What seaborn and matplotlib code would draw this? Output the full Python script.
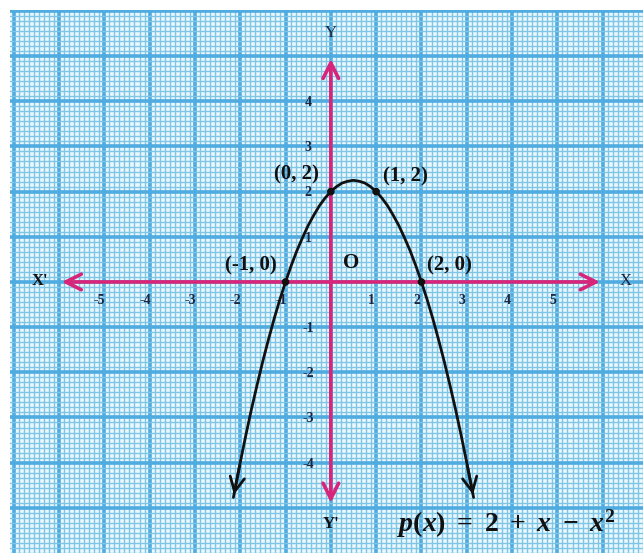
import numpy as np
import seaborn as sns
import matplotlib.pyplot as plt
import pandas as pd

# Curve p(x) = 2 + x - x^2
curve_x = [-2.15, -2.0, -1.875, -1.75, -1.625, -1.5, -1.375, -1.25, -1.125, -1.0,
           -0.875, -0.75, -0.625, -0.5, -0.375, -0.25, -0.125, 0.0, 0.125, 0.25,
           0.375, 0.5, 0.625, 0.75, 0.875, 1.0, 1.125, 1.25, 1.375, 1.5, 1.625,
           1.75, 1.875, 2.0, 2.125, 2.25, 2.375, 2.5, 2.625, 2.75, 2.875, 3.0, 3.15]
curve_y = [-4.77, -4.0, -3.39, -2.81, -2.27, -1.75, -1.27, -0.81, -0.39, 0.0,
           0.36, 0.69, 0.98, 1.25, 1.48, 1.69, 1.86, 2.0, 2.11, 2.19,
           2.23, 2.25, 2.23, 2.19, 2.11, 2.0, 1.86, 1.69, 1.48, 1.25, 0.98,
           0.69, 0.36, 0.0, -0.39, -0.81, -1.27, -1.75, -2.27, -2.81, -3.39, -4.0, -4.77]

# marked points and their labels
pt_x = [-1, 0, 1, 2]
pt_y = [0, 2, 2, 0]
pt_labels = ["(-1, 0)", "(0, 2)", "(1, 2)", "(2, 0)"]

x_ticks = [-5, -4, -3, -2, -1, 1, 2, 3, 4, 5]
y_ticks = [-4, -3, -2, -1, 1, 2, 3, 4]

sns.set_theme(style="white")
plt.rcParams["font.family"] = ["Liberation Serif", "DejaVu Serif"]
plt.rcParams["mathtext.fontset"] = "custom"
plt.rcParams["mathtext.rm"] = "Liberation Serif:bold"
plt.rcParams["mathtext.it"] = "Liberation Serif:italic:bold"
plt.rcParams["mathtext.bf"] = "Liberation Serif:bold"

AXIS_COL = "#d8257a"
INK = "#111111"
NUM_COL = "#1c2540"

fig = plt.figure(figsize=(6.43, 5.53), dpi=100)
ax = fig.add_axes([10 / 643, 0, 633 / 643, 543 / 553])
ax.set_facecolor("#eaf8fd")

ax.set_xlim(-7.08, 6.84)
ax.set_ylim(-5.91, 6.02)

# graph paper: thick line every unit, fine lines in between
ax.set_xticks(np.arange(-7, 7, 1))
ax.set_yticks(np.arange(-5, 7, 1))
ax.set_xticks(np.arange(-7, 7, 1 / 9), minor=True)
ax.set_yticks(np.arange(-6, 6.1, 1 / 9), minor=True)
ax.grid(which="minor", color="#7fc5e6", lw=1.0)
ax.grid(which="major", color="#4fabe0", lw=2.6)
ax.tick_params(which="both", length=0, labelbottom=False, labelleft=False)
for s in ax.spines.values():
    s.set_visible(False)
ax.set_axisbelow(True)

# x and y axes with arrows
ax.annotate("", xy=(6.0, 0), xytext=(-6.0, 0),
            arrowprops=dict(arrowstyle="<->", color=AXIS_COL, lw=2.6, mutation_scale=28))
ax.annotate("", xy=(0, 5.0), xytext=(0, -4.95),
            arrowprops=dict(arrowstyle="<->", color=AXIS_COL, lw=2.6, mutation_scale=28))

bold = dict(fontweight="bold", color=INK)
ax.text(-6.42, 0.02, "X'", fontsize=12, ha="center", va="center", **bold)
ax.text(6.5, 0.02, "X", fontsize=12, ha="center", va="center", color=NUM_COL)
ax.text(0.0, 5.5, "Y", fontsize=12, ha="center", va="center", color=NUM_COL)
ax.text(0.0, -5.35, "Y'", fontsize=12, ha="center", va="center", **bold)

for v in x_ticks:
    ax.text(v - 0.1, -0.4, str(v), fontsize=10, ha="center", va="center",
            fontweight="bold", color=NUM_COL)
for v in y_ticks:
    ax.text(-0.5, v - 0.03, str(v), fontsize=10, ha="center", va="center",
            fontweight="bold", color=NUM_COL)

# parabola
curve = pd.DataFrame({"x": curve_x, "y": curve_y})
sns.lineplot(data=curve, x="x", y="y", sort=False, color=INK, lw=2.0, ax=ax, zorder=5)
ax.annotate("", xy=(curve_x[0], curve_y[0]), xytext=(curve_x[1], curve_y[1]),
            arrowprops=dict(arrowstyle="->", color=INK, lw=2.0, mutation_scale=26))
ax.annotate("", xy=(curve_x[-1], curve_y[-1]), xytext=(curve_x[-2], curve_y[-2]),
            arrowprops=dict(arrowstyle="->", color=INK, lw=2.0, mutation_scale=26))

pts = pd.DataFrame({"x": pt_x, "y": pt_y})
sns.scatterplot(data=pts, x="x", y="y", color=INK, s=30, edgecolor="none", ax=ax, zorder=6)

label_pos = [(-1.76, 0.37), (-0.77, 2.37), (1.65, 2.33), (2.62, 0.37)]
for lab, (lx, ly) in zip(pt_labels, label_pos):
    ax.text(lx, ly, lab, fontsize=15, ha="center", va="center", **bold)
ax.text(0.44, 0.42, "O", fontsize=15, ha="center", va="center", **bold)

ax.text(3.86, -5.36, r"$p(x)\ =\ 2\ +\ x\ -\ x^2$", fontsize=20,
        ha="center", va="center", color=INK)

ax.set_xlabel("")
ax.set_ylabel("")
fig.savefig("out.png", dpi=100)
